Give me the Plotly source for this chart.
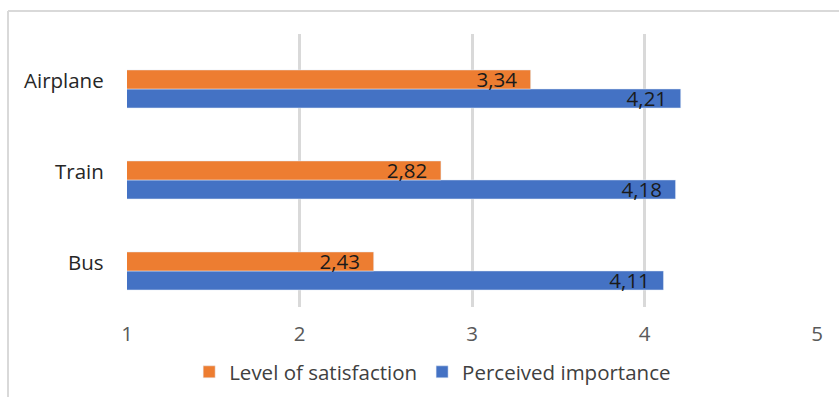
import plotly.graph_objects as go

categories = ["Bus", "Train", "Airplane"]
satisfaction = [2.43, 2.82, 3.34]
importance = [4.11, 4.18, 4.21]
x_ticks = [1, 2, 3, 4, 5]

def fmt(v):
    return f"{v:.2f}".replace(".", ",") + "\u00a0\u00a0"

FONT = "Open Sans"
FS = 20.5
fig = go.Figure()
fig.add_trace(go.Bar(
    y=categories, x=importance, orientation="h", name="Perceived importance",
    marker=dict(color="#4472C4"),
    text=[fmt(v) for v in importance], textposition="inside", insidetextanchor="end",
    constraintext="none", cliponaxis=False,
    textfont=dict(color="#1a1a1a", size=FS, family=FONT),
))
fig.add_trace(go.Bar(
    y=categories, x=satisfaction, orientation="h", name="Level of satisfaction",
    marker=dict(color="#ED7D31"),
    text=[fmt(v) for v in satisfaction], textposition="inside", insidetextanchor="end",
    constraintext="none", cliponaxis=False,
    textfont=dict(color="#1a1a1a", size=FS, family=FONT),
))

L, R, T, B = 127, 22, 34, 90
W, H = 839, 397
pw, ph = W - L - R, H - T - B

annotations = [
    dict(x=0, xref="paper", y=c, yref="y", text=c, showarrow=False,
         xanchor="right", yanchor="middle", xshift=-21, yshift=9,
         font=dict(size=FS, color="#262626", family=FONT))
    for c in categories
]

fig.update_layout(
    width=W, height=H,
    margin=dict(l=L, r=R, t=T, b=B, pad=0, autoexpand=False),
    plot_bgcolor="white", paper_bgcolor="white",
    barmode="group", bargap=0.582, bargroupgap=0,
    font=dict(family=FONT, size=FS, color="#404040"),
    xaxis=dict(range=[1, 5], tickvals=x_ticks, ticktext=[str(v) for v in x_ticks],
               showgrid=True, gridcolor="#D9D9D9", gridwidth=2.5, zeroline=False,
               showline=False, ticks="", tickfont=dict(size=FS, color="#595959"),
               ticklabelstandoff=12, fixedrange=True),
    yaxis=dict(range=[-0.396, 2.604], showgrid=False, zeroline=False, showline=False,
               ticks="", showticklabels=False),
    showlegend=True,
    legend=dict(orientation="h", traceorder="reversed", x=0.443, xanchor="center",
                y=(H - B - 352) / ph, yanchor="top",
                font=dict(size=FS, color="#404040"), itemwidth=30),
    annotations=annotations,
    shapes=[
        dict(type="line", xref="paper", yref="paper",
             x0=(8 - L) / pw, x1=(W + 5 - L) / pw,
             y0=(H - B - 11) / ph, y1=(H - B - 11) / ph,
             line=dict(color="#D9D9D9", width=2)),
        dict(type="line", xref="paper", yref="paper",
             x0=(8 - L) / pw, x1=(8 - L) / pw,
             y0=(H - B - 11) / ph, y1=(H - B - H - 5) / ph,
             line=dict(color="#D9D9D9", width=2)),
    ],
)
fig.write_html("out.html")
